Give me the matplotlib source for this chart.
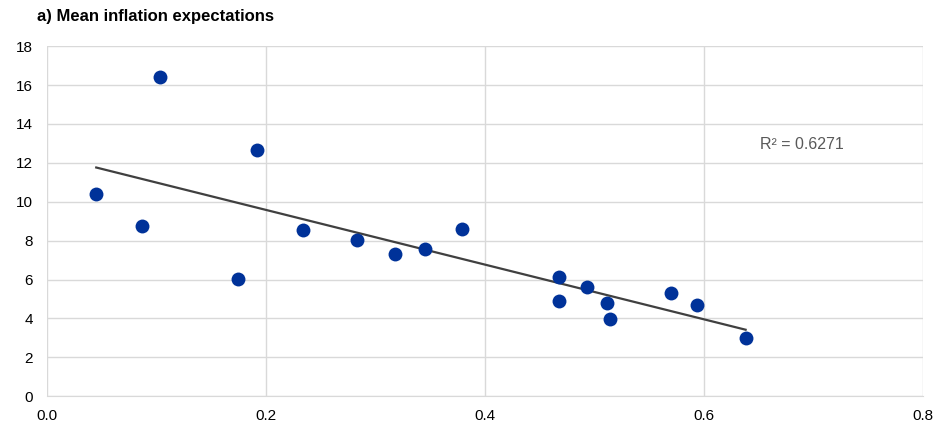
import numpy as np
import matplotlib.pyplot as plt

plt.rcParams['font.family'] = ['Liberation Sans', 'DejaVu Sans']

# valores
x_vals = [0.045, 0.087, 0.103, 0.174, 0.192, 0.234, 0.283, 0.318, 0.345, 0.379,
          0.468, 0.468, 0.493, 0.511, 0.514, 0.570, 0.594, 0.638]
y_vals = [10.42, 8.77, 16.43, 6.02, 12.66, 8.57, 8.04, 7.32, 7.57, 8.60,
          6.12, 4.90, 5.63, 4.81, 3.99, 5.33, 4.69, 3.00]
x_ticks = [0.0, 0.2, 0.4, 0.6, 0.8]
y_ticks = [0, 2, 4, 6, 8, 10, 12, 14, 16, 18]
titulo = "a) Mean inflation expectations"
etiqueta_r2 = "R² = 0.6271"

x = np.array(x_vals)
y = np.array(y_vals)

fig = plt.figure(figsize=(9.43, 4.26), dpi=100)
ax = fig.add_axes([0.0498, 0.0697, 0.929, 0.822])

ax.scatter(x, y, s=100, color='#003299', zorder=3, linewidths=0)

# linea de tendencia lineal
m, b = np.polyfit(x, y, 1)
xl = np.array([x.min(), x.max()])
ax.plot(xl, m * xl + b, color='#404040', linewidth=1.6, zorder=2)

ax.set_xlim(0, 0.8)
ax.set_ylim(0, 18)
ax.set_xticks(x_ticks)
ax.set_xticklabels([f"{t:.1f}" for t in x_ticks])
ax.set_yticks(y_ticks)
ax.grid(True, color='#d9d9d9', linewidth=1)
ax.set_axisbelow(True)
for s in ['top', 'right', 'left']:
    ax.spines[s].set_visible(False)
ax.spines['bottom'].set_color('#d9d9d9')
ax.tick_params(length=0, labelsize=11, colors='#000000')
ax.tick_params(axis='y', pad=10)
ax.tick_params(axis='x', pad=9)

ax.text(0.651, 12.95, etiqueta_r2, fontsize=11.5, color='#595959', va='center')
fig.text(37 / 943, 1 - 17 / 426, titulo, fontsize=12, fontweight='bold', va='center')

fig.savefig('out.png', dpi=100)
